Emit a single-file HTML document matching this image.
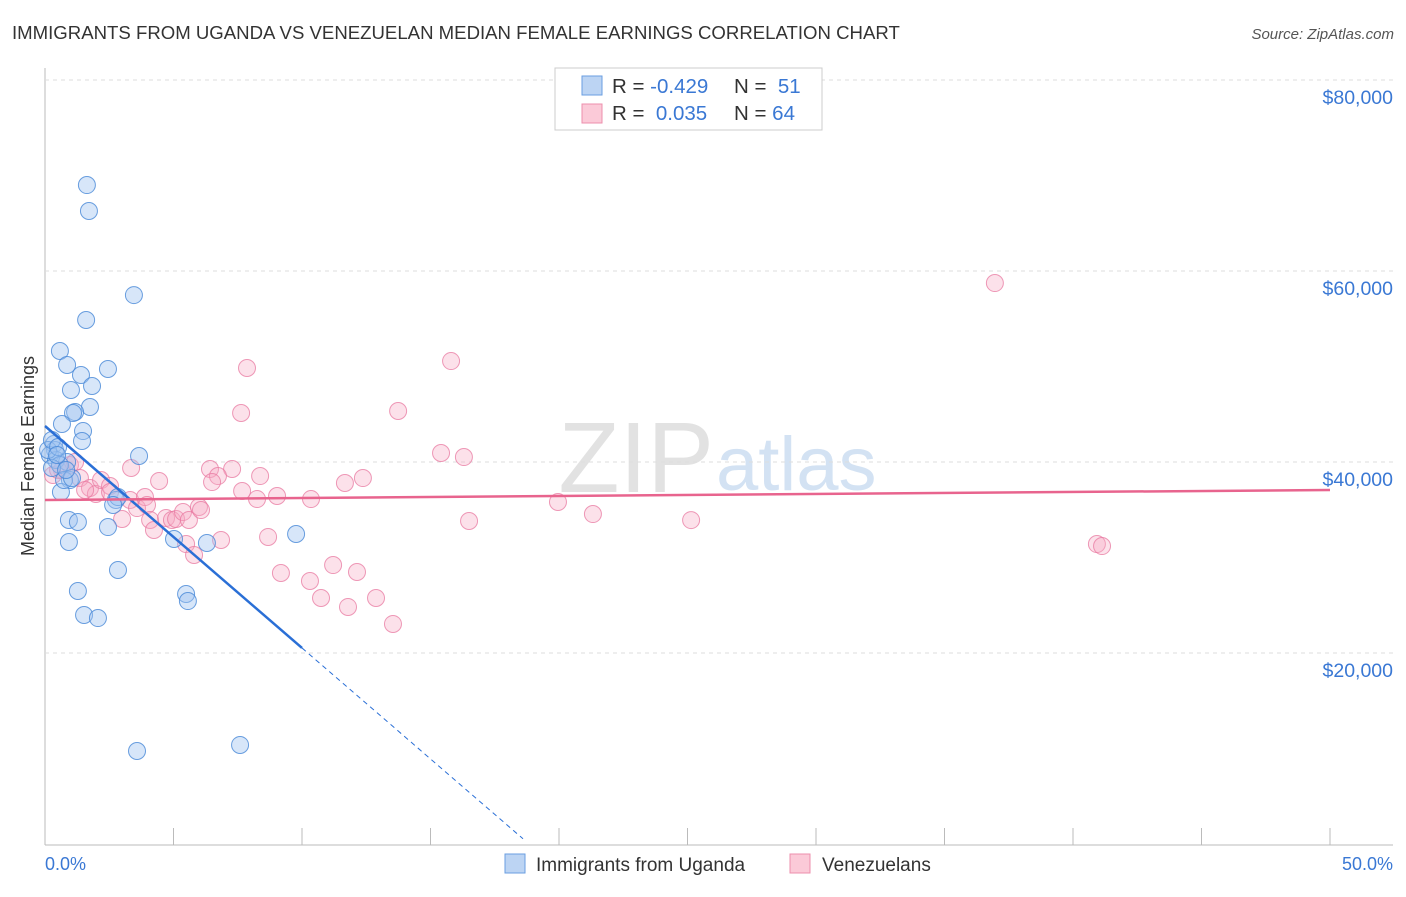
<!DOCTYPE html>
<html><head><meta charset="utf-8"><style>
body{margin:0;background:#fff;font-family:"Liberation Sans",sans-serif;}
svg text{font-family:"Liberation Sans",sans-serif;}
</style></head><body>
<svg id="c" width="1406" height="892">
<text x="12" y="39" font-size="18.6" fill="#333">IMMIGRANTS FROM UGANDA VS VENEZUELAN MEDIAN FEMALE EARNINGS CORRELATION CHART</text>
<text x="1394" y="39" font-size="15" fill="#555" font-style="italic" text-anchor="end">Source: ZipAtlas.com</text>
<text x="714" y="492" font-size="100" fill="#e2e2e2" text-anchor="end" font-family="Liberation Serif">ZIP</text>
<text x="716" y="490" font-size="76" fill="#d3e2f3">atlas</text>
<g id="grid"></g><g id="pts"></g><g id="trend"></g>
<text transform="translate(34,456) rotate(-90)" font-size="18" fill="#333" text-anchor="middle">Median Female Earnings</text>
<text x="45" y="870" font-size="18" fill="#3a78d4">0.0%</text>
<text x="1393" y="870" font-size="18" fill="#3a78d4" text-anchor="end">50.0%</text>
<g>
<rect x="555" y="68" width="267" height="62" fill="#fff" stroke="#ccc"/>
<rect x="582" y="76" width="20" height="19" fill="#bcd4f3" stroke="#6a9ee0"/>
<rect x="582" y="104" width="20" height="19" fill="#fbcad8" stroke="#ec8fac"/>
<text x="612" y="93" font-size="20.5" fill="#333">R = <tspan fill="#3a78d4">-0.429</tspan><tspan x="734">N = </tspan><tspan fill="#3a78d4">&#160;51</tspan></text>
<text x="612" y="120" font-size="20.5" fill="#333">R = <tspan fill="#3a78d4">&#160;0.035</tspan><tspan x="734">N = </tspan><tspan fill="#3a78d4">64</tspan></text>
</g>
<g>
<rect x="505" y="854" width="20" height="19" fill="#bcd4f3" stroke="#6a9ee0"/>
<text x="536" y="871" font-size="19" fill="#333">Immigrants from Uganda</text>
<rect x="790" y="854" width="20" height="19" fill="#fbcad8" stroke="#ec8fac"/>
<text x="822" y="871" font-size="19" fill="#333">Venezuelans</text>
</g>
</svg>
<script>
const yTicks=[20000,40000,60000,80000];
const yTickLabels=["$20,000","$40,000","$60,000","$80,000"];
const xTicks=[0,5,10,15,20,25,30,35,40,45,50];
const ugX=[1.63,1.71,3.46,1.60,0.58,0.86,2.45,1.40,1.83,1.01,1.75,1.17,1.09,0.66,1.48,1.44,0.35,3.66,0.39,0.19,0.43,0.86,0.58,0.27,0.97,0.62,2.76,0.93,1.28,2.45,0.93,5.02,6.30,9.77,2.84,1.28,5.49,5.56,1.52,2.06,3.58,7.59,0.12,0.27,0.51,0.74,1.05,2.84,2.65,0.82,0.47];
const ugY=[69000,66280,57480,54870,51620,50160,49740,49110,47960,47540,45760,45230,45130,43980,43240,42200,41880,40630,41260,40730,40210,40000,39690,39370,38110,36860,36020,33930,33720,33190,31620,31940,31520,32460,28690,26490,26180,25440,23980,23660,9740,10370,41260,42300,41570,38110,38320,36330,35500,39160,40730];
const veX=[36.96,15.80,7.86,7.63,13.74,15.41,16.30,3.35,4.44,6.42,7.28,6.73,6.50,8.37,12.37,11.67,7.67,8.25,9.03,10.35,19.96,21.32,25.14,16.50,40.93,41.13,0.66,0.97,1.17,1.36,1.75,1.98,2.18,2.53,2.53,3.00,3.31,3.58,3.89,3.97,4.09,4.24,4.71,4.94,5.10,5.37,5.60,5.99,6.07,5.49,5.80,6.85,8.68,9.18,10.31,11.21,10.74,11.79,12.14,12.88,13.54,0.31,0.51,1.56];
const veY=[58740,50570,49840,45130,45340,40940,40520,39370,38010,39270,39270,38530,37900,38530,38320,37800,36960,36120,36440,36120,35810,34550,33920,33820,31410,31200,39160,39690,40000,38320,37280,36650,38110,37490,36860,34030,36020,35180,36330,35500,33930,32880,34140,33930,34030,34760,33930,35290,34970,31410,30260,31830,32150,28380,27540,29210,25760,24820,28480,25760,23040,38640,39160,37070];
const ugTrend=[43770,-2324];
const veTrend=[36020,37070];
const X=v=>45+v*25.7, Y=v=>844-v*191/20000;
const NS="http://www.w3.org/2000/svg";
function mk(t,a,p){const e=document.createElementNS(NS,t);for(const k in a)e.setAttribute(k,a[k]);p.appendChild(e);return e;}
const g=document.getElementById('grid');
const ax=mk('line',{x1:45,y1:68,x2:45,y2:845,stroke:'#bbb'},g);


const bx=mk('line',{x1:45,y1:845,x2:1393,y2:845,stroke:'#bbb'},g);


yTicks.forEach((t,i)=>{
 const l=mk('line',{x1:45,x2:1393,y1:Y(t),y2:Y(t),stroke:'#ddd','stroke-dasharray':'4,4'},g);
 
 
 const tx=mk('text',{x:1393,y:Y(t)+24,'font-size':19.5,fill:'#3a78d4','text-anchor':'end'},g);
 tx.textContent=yTickLabels[i];
 
 
});
xTicks.forEach(t=>{
 const l=mk('line',{x1:X(t),x2:X(t),y1:828,y2:845,stroke:'#bbb'},g);
 
 
});
const pg=document.getElementById('pts');
veX.forEach((x,i)=>{
 const c=mk('circle',{cx:X(x),cy:Y(veY[i]),r:8.5,fill:'rgba(246,170,195,0.35)',stroke:'rgba(232,120,160,0.75)','stroke-width':1},pg);
 
 
});
ugX.forEach((x,i)=>{
 const c=mk('circle',{cx:X(x),cy:Y(ugY[i]),r:8.5,fill:'rgba(160,195,240,0.42)',stroke:'rgba(70,135,215,0.8)','stroke-width':1},pg);
 
 
});
const tr=document.getElementById('trend');
const uf=x=>ugTrend[0]+ugTrend[1]*x;
const l1=mk('line',{x1:X(0),y1:Y(uf(0)),x2:X(10),y2:Y(uf(10)),stroke:'#2a6fd6','stroke-width':2.5},tr);


const l2=mk('line',{x1:X(10),y1:Y(uf(10)),x2:X(18.6),y2:Y(uf(18.6)),stroke:'#2a6fd6','stroke-width':1,'stroke-dasharray':'5,4'},tr);


const l3=mk('line',{x1:X(0),y1:Y(veTrend[0]),x2:X(50),y2:Y(veTrend[1]),stroke:'#e8648e','stroke-width':2.5},tr);


</script>
</body></html>
